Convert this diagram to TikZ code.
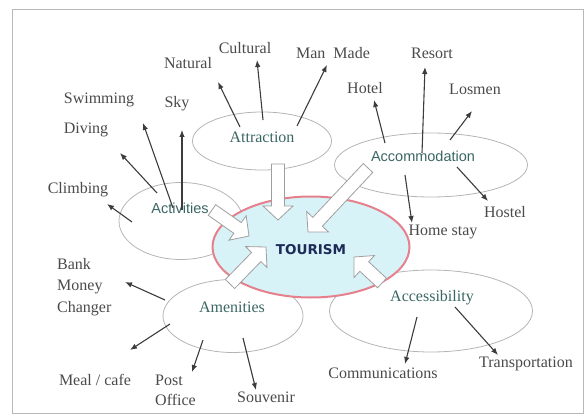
\documentclass[tikz,border=0pt]{standalone}
\usepackage{fontspec}
\setmainfont{Liberation Serif}
\newfontfamily\lsans{Liberation Sans}
\newfontfamily\dvb{DejaVu Sans}
\usetikzlibrary{shapes.geometric,arrows.meta,calc}
\definecolor{lbl}{HTML}{4A4A4A}
\definecolor{ellc}{HTML}{B4B4B4}
\definecolor{tealc}{HTML}{3A6662}
\definecolor{arrc}{HTML}{3C3C3C}
\definecolor{tourfill}{HTML}{D8F3F8}
\definecolor{tourline}{HTML}{E5808C}
\definecolor{navy}{HTML}{1C2A58}
\definecolor{framec}{HTML}{B8B8B8}
\newcommand\blkarrow[3]{%
  \coordinate (#3h) at ($(#2)!14pt!(#1)$);
  \draw[blk] ($(#1)!6.5pt!90:(#2)$) -- ($(#3h)!6.5pt!90:(#2)$) -- ($(#3h)!15pt!90:(#2)$) -- (#2)
     -- ($(#3h)!15pt!-90:(#2)$) -- ($(#3h)!6.5pt!-90:(#2)$) -- ($(#1)!6.5pt!-90:(#2)$) -- cycle;}
\begin{document}
\begin{tikzpicture}[x=1pt,y=-1pt,
  ell/.style={ellipse, draw=ellc, line width=0.8pt, inner sep=0pt},
  lab/.style={text=lbl, inner sep=0pt, font=\rmfamily\fontsize{16}{18}\selectfont},
  elab/.style={text=tealc, inner sep=0pt, font=\rmfamily\fontsize{16}{18}\selectfont},
  slab/.style={text=tealc, inner sep=0pt, font=\lsans\fontsize{14.5}{17}\selectfont},
  sm/.style={draw=arrc, line width=1.1pt, -{Latex[length=7pt,width=5.5pt]}},
  blk/.style={draw=gray!75, fill=white, line width=0.8pt, line join=miter}]
\useasboundingbox (0,0) rectangle (586,417);
\draw[framec, line width=1pt] (12,10) rectangle (583,413);

% secondary ellipses
\node[ell, minimum width=139pt, minimum height=58pt] (attr) at (262,141) {};
\node[ell, minimum width=193pt, minimum height=64pt] (accom) at (431,165) {};
\node[ell, minimum width=124pt, minimum height=77pt] (activ) at (181,221) {};
\node[ell, minimum width=140pt, minimum height=73pt] (amen) at (233,316) {};
\node[ell, minimum width=203pt, minimum height=82pt] (access) at (431,311) {};

% central ellipse
\node[ellipse, draw=tourline, fill=tourfill, line width=2pt, inner sep=0pt,
      minimum width=197pt, minimum height=101pt] (tour) at (311,247) {};
\node[text=navy, inner sep=0pt, font=\dvb\bfseries\fontsize{13.5}{16}\selectfont] (tourT) at (311,250) {TOURISM};

% block arrows into TOURISM
\coordinate (b1s) at (278,164); \coordinate (b1e) at (278,220);
\coordinate (b2s) at (368,168); \coordinate (b2e) at (308,232);
\coordinate (b3s) at (212,210); \coordinate (b3e) at (249,236);
\coordinate (b4s) at (230,284); \coordinate (b4e) at (266,247);
\coordinate (b5s) at (382,283); \coordinate (b5e) at (354,257);
\blkarrow{b1s}{b1e}{b1}
\blkarrow{b2s}{b2e}{b2}
\blkarrow{b3s}{b3e}{b3}
\blkarrow{b4s}{b4e}{b4}
\blkarrow{b5s}{b5e}{b5}

% ellipse labels
\node[elab] (attrT) at (262,137) {Attraction};
\node[slab] (accomT) at (423,156) {Accommodation};
\node[slab] (activT) at (180,208) {Activities};
\node[elab] (amenT) at (232,307) {Amenities};
\node[elab] (accessT) at (432,298) {Accessibility};

% outer labels
\node[lab] (natural) at (188,63) {Natural};
\node[lab] (cultural) at (245,48) {Cultural};
\node[lab] (manmade) at (333,53) {Man\ \ Made};
\node[lab] (hotel) at (365,88) {Hotel};
\node[lab] (resort) at (432,53) {Resort};
\node[lab] (losmen) at (475,89) {Losmen};
\node[lab] (hostel) at (505,212) {Hostel};
\node[lab] (homestay) at (443,232) {Home stay};
\node[lab] (swim) at (99,100) {Swimming};
\node[lab] (sky) at (177,104) {Sky};
\node[lab] (diving) at (86,130) {Diving};
\node[lab] (climb) at (78,190) {Climbing};
\node[lab, anchor=west, align=left, font=\rmfamily\fontsize{16}{21.5}\selectfont] (bank) at (57,287) {Bank\\Money\\Changer};
\node[lab] (meal) at (95,380) {Meal / cafe};
\node[lab, anchor=west, align=left, font=\rmfamily\fontsize{16}{20}\selectfont] (post) at (155,390) {Post\\Office};
\node[lab] (souv) at (266,397) {Souvenir};
\node[lab] (comm) at (383,373) {Communications};
\node[lab] (trans) at (526,364) {Transportation};

% small arrows
\coordinate (natA) at (240,127); \coordinate (natB) at (218,82);
\coordinate (culA) at (263,120); \coordinate (culB) at (257,60);
\coordinate (manA) at (297,126); \coordinate (manB) at (327,65);
\coordinate (hotA) at (385,143); \coordinate (hotB) at (374,100);
\coordinate (resA) at (422,153); \coordinate (resB) at (425,67);
\coordinate (losA) at (450,140); \coordinate (losB) at (472,111);
\coordinate (hosA) at (457,167); \coordinate (hosB) at (488,201);
\coordinate (homA) at (405,175); \coordinate (homB) at (412,223);
\coordinate (swA) at (173,208); \coordinate (swB) at (143,123);
\coordinate (skyA) at (182,210); \coordinate (skyB) at (182,130);
\coordinate (divA) at (157,193); \coordinate (divB) at (120,153);
\coordinate (clA) at (132,222); \coordinate (clB) at (107,204);
\coordinate (bkA) at (165,300); \coordinate (bkB) at (125,282);
\coordinate (mlA) at (170,324); \coordinate (mlB) at (130,350);
\coordinate (poA) at (203,340); \coordinate (poB) at (192,372);
\coordinate (svA) at (243,338); \coordinate (svB) at (256,390);
\coordinate (cmA) at (417,317); \coordinate (cmB) at (405,364);
\coordinate (trA) at (455,307); \coordinate (trB) at (498,355);
\foreach \a in {nat,cul,man,hot,res,los,hos,hom,sw,sky,div,cl,bk,ml,po,sv,cm,tr}
  \draw[sm] (\a A) -- (\a B);
\end{tikzpicture}
\end{document}
